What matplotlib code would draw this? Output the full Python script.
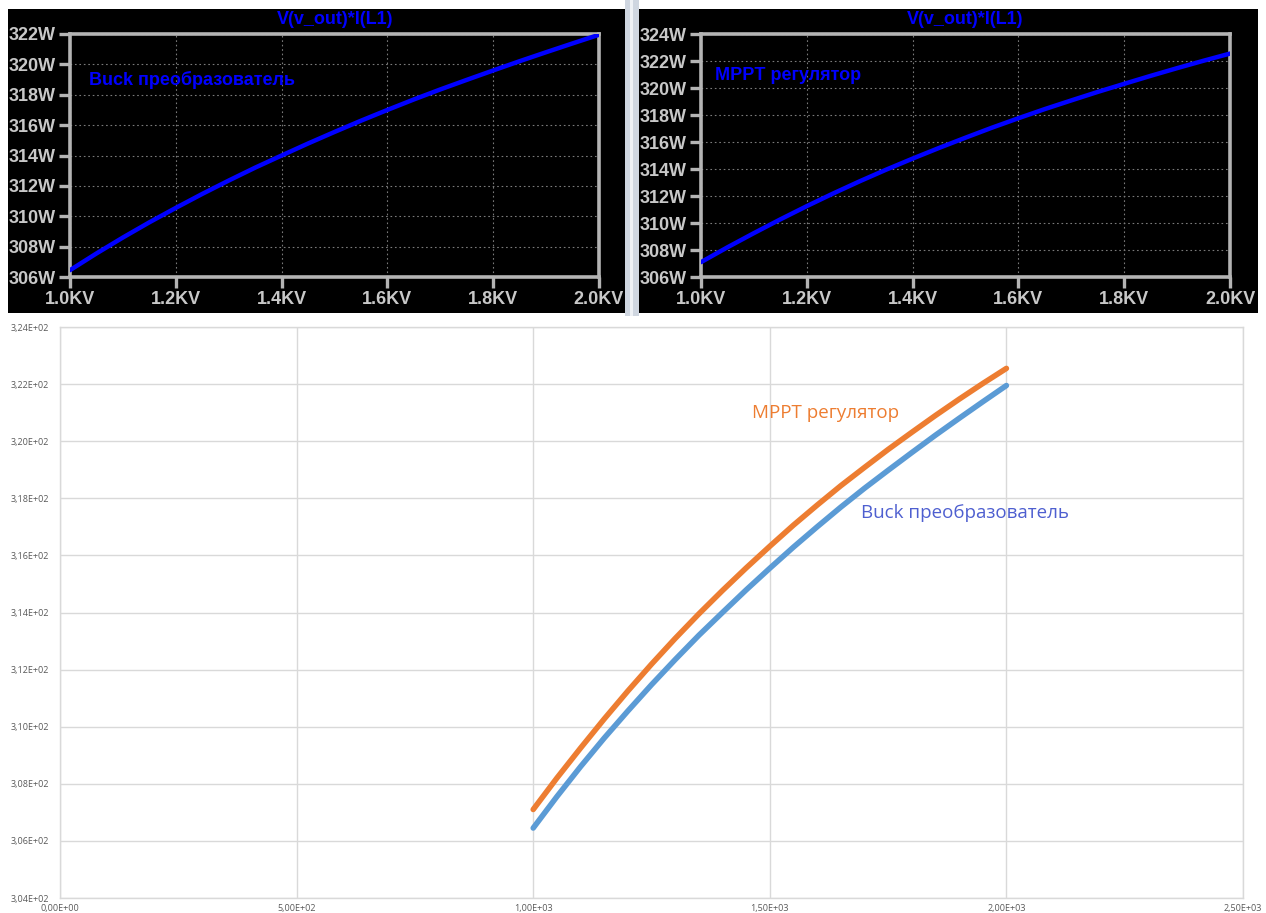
import matplotlib
matplotlib.use("Agg")
import matplotlib.pyplot as plt
from matplotlib.patches import Rectangle
from matplotlib.ticker import FuncFormatter, MultipleLocator

# input voltage sweep (V) and output power V(v_out)*I(L1) (W)
voltage = [1000, 1050, 1100, 1150, 1200, 1250, 1300, 1350, 1400, 1450, 1500,
           1550, 1600, 1650, 1700, 1750, 1800, 1850, 1900, 1950, 2000]
p_buck = [306.45, 307.55, 308.6, 309.6, 310.55, 311.47, 312.35, 313.2, 314.0, 314.79, 315.55,
          316.29, 317.0, 317.69, 318.35, 318.98, 319.6, 320.21, 320.8, 321.38, 321.95]
p_mppt = [307.1, 308.2, 309.25, 310.27, 311.25, 312.19, 313.09, 313.95, 314.77, 315.56, 316.32,
          317.06, 317.76, 318.44, 319.08, 319.71, 320.31, 320.9, 321.47, 322.02, 322.55]

trace_name = "V(v_out)*I(L1)"
label_buck = "Buck преобразователь"
label_mppt = "MPPT регулятор"

W, H = 1266, 913
fig = plt.figure(figsize=(W / 100, H / 100), dpi=100, facecolor="white")


def box(l, t, r, b):
    return [l / W, 1 - b / H, (r - l) / W, (b - t) / H]


def fig_rect(l, t, r, b, color):
    fig.patches.append(Rectangle((l / W, 1 - b / H), (r - l) / W, (b - t) / H,
                                 transform=fig.transFigure, fc=color, ec="none", zorder=-5))


# black LTspice windows and the splitter between them
fig_rect(8, 9, 625, 313, "black")
fig_rect(639, 9, 1258, 313, "black")
fig_rect(625, 0, 639, 316, "#cfd6e0")
fig_rect(630, 0, 633, 316, "#eef1f5")

spice_font = dict(family="Liberation Sans", weight="bold")
grey = "#b4b4b4"


def spice_panel(rect, y, ylim, label, label_xy, title_x):
    ax = fig.add_axes(box(*rect))
    ax.set_facecolor("black")
    ax.plot(voltage, y, color="#0000ff", lw=3.2, solid_capstyle="round", zorder=3)
    ax.set_xlim(1000, 2000)
    ax.set_ylim(*ylim)
    ax.xaxis.set_major_locator(MultipleLocator(200))
    ax.yaxis.set_major_locator(MultipleLocator(2))
    ax.xaxis.set_major_formatter(FuncFormatter(lambda v, _: f"{v / 1000:.1f}KV"))
    ax.yaxis.set_major_formatter(FuncFormatter(lambda v, _: f"{v:.0f}W"))
    ax.grid(True, color="#7a7a7a", ls=(0, (1.5, 2.5)), lw=0.8)
    for s in ax.spines.values():
        s.set_color(grey)
        s.set_linewidth(2.6)
    ax.tick_params(length=8, width=2.4, color=grey, labelcolor="#c8c8c8",
                   labelsize=13, pad=2)
    for t in ax.get_xticklabels() + ax.get_yticklabels():
        t.set_fontfamily("Liberation Sans")
        t.set_fontweight("bold")
    ax.text(*label_xy, label, transform=ax.transAxes, color="#0000ff",
            fontsize=13, va="center", ha="left", **spice_font)
    fig.text(title_x / W, 1 - 19 / H, trace_name, color="#0000ff", fontsize=13,
             ha="center", va="center", **spice_font)
    return ax


spice_panel((70, 34, 599, 277), p_buck, (306, 322), label_buck, (0.036, 0.81), 335)
spice_panel((701, 34, 1230, 277), p_mppt, (306, 324), label_mppt, (0.026, 0.83), 965)

# Excel comparison chart
ax = fig.add_axes(box(60, 327, 1243, 898))
ax.plot(voltage, p_buck, color="#5b9bd5", lw=4, solid_capstyle="round", zorder=3)
ax.plot(voltage, p_mppt, color="#ed7d31", lw=4, solid_capstyle="round", zorder=3)
ax.set_xlim(0, 2500)
ax.set_ylim(304, 324)
ax.xaxis.set_major_locator(MultipleLocator(500))
ax.yaxis.set_major_locator(MultipleLocator(2))
sci = FuncFormatter(lambda v, _: f"{v:.2E}".replace(".", ","))
ax.xaxis.set_major_formatter(sci)
ax.yaxis.set_major_formatter(sci)
ax.grid(True, color="#d9d9d9", lw=1)
for s in ax.spines.values():
    s.set_color("#d9d9d9")
    s.set_linewidth(1)
ax.tick_params(length=0, labelsize=6.5, labelcolor="#595959")
ax.tick_params(axis="y", pad=8)
ax.tick_params(axis="x", pad=4.5)
for t in ax.get_xticklabels() + ax.get_yticklabels():
    t.set_fontfamily(["Open Sans", "DejaVu Sans"])
ax.text(1617, 321.0, label_mppt, color="#ed7d31", fontsize=13.5,
        family=["Open Sans", "DejaVu Sans"], ha="center", va="center")
ax.text(1912, 317.5, label_buck, color="#4e5fd0", fontsize=13.5,
        family=["Open Sans", "DejaVu Sans"], ha="center", va="center")

fig.savefig("out.png", dpi=100, facecolor="white")
